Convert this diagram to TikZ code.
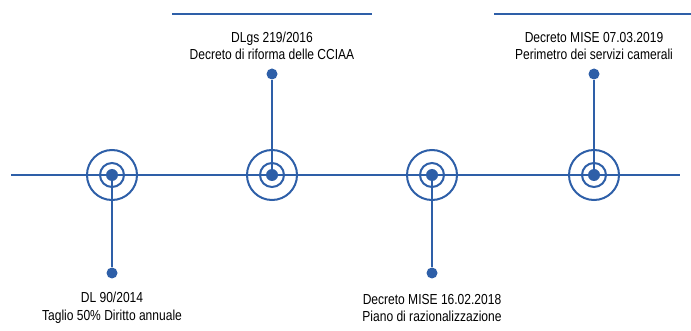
\documentclass[tikz,border=0pt]{standalone}
\usepackage{fontspec}
\setmainfont{Liberation Sans}[FakeStretch=0.83]
\definecolor{tlblue}{RGB}{46,95,168}
\begin{document}
\begin{tikzpicture}[x=1pt,y=-1pt,
  line/.style={draw=tlblue,line width=2pt},
  ring/.style={circle,draw=tlblue,line width=2pt,inner sep=0pt},
  dot/.style={circle,fill=tlblue,inner sep=0pt,minimum size=11pt},
  lbl/.style={align=center,font=\fontsize{14.5}{17.5}\selectfont,inner sep=0pt}]
\useasboundingbox (0,0) rectangle (691,331);
\coordinate (L) at (11,175);
\coordinate (R) at (680,175);
\draw[line] (L) -- (R);
\coordinate (t1a) at (172,14); \coordinate (t1b) at (372,14);
\coordinate (t2a) at (494,14); \coordinate (t2b) at (691,14);
\draw[line] (t1a) -- (t1b);
\draw[line] (t2a) -- (t2b);
\foreach \x/\n in {112/a,272/b,432/c,594/d}{
  \node[ring,minimum size=50pt] (o\n) at (\x,175) {};
  \node[ring,minimum size=24pt] (i\n) at (\x,175) {};
  \node[dot,minimum size=12pt] (c\n) at (\x,175) {};
}
\node[dot] (ea) at (112,273) {};
\node[dot] (eb) at (272,74) {};
\node[dot] (ec) at (432,273) {};
\node[dot] (ed) at (594,74) {};
\draw[line] (ca) -- (ea);
\draw[line] (cb) -- (eb);
\draw[line] (cc) -- (ec);
\draw[line] (cd) -- (ed);
\node[lbl] (la) at (112,308) {DL 90/2014\\Taglio 50\% Diritto annuale};
\node[lbl] (lb) at (272,46) {DLgs 219/2016\\Decreto di riforma delle CCIAA};
\node[lbl] (lc) at (432,308) {Decreto MISE 16.02.2018\\Piano di razionalizzazione};
\node[lbl] (ld) at (594,46) {Decreto MISE 07.03.2019\\Perimetro dei servizi camerali};
\end{tikzpicture}
\end{document}
